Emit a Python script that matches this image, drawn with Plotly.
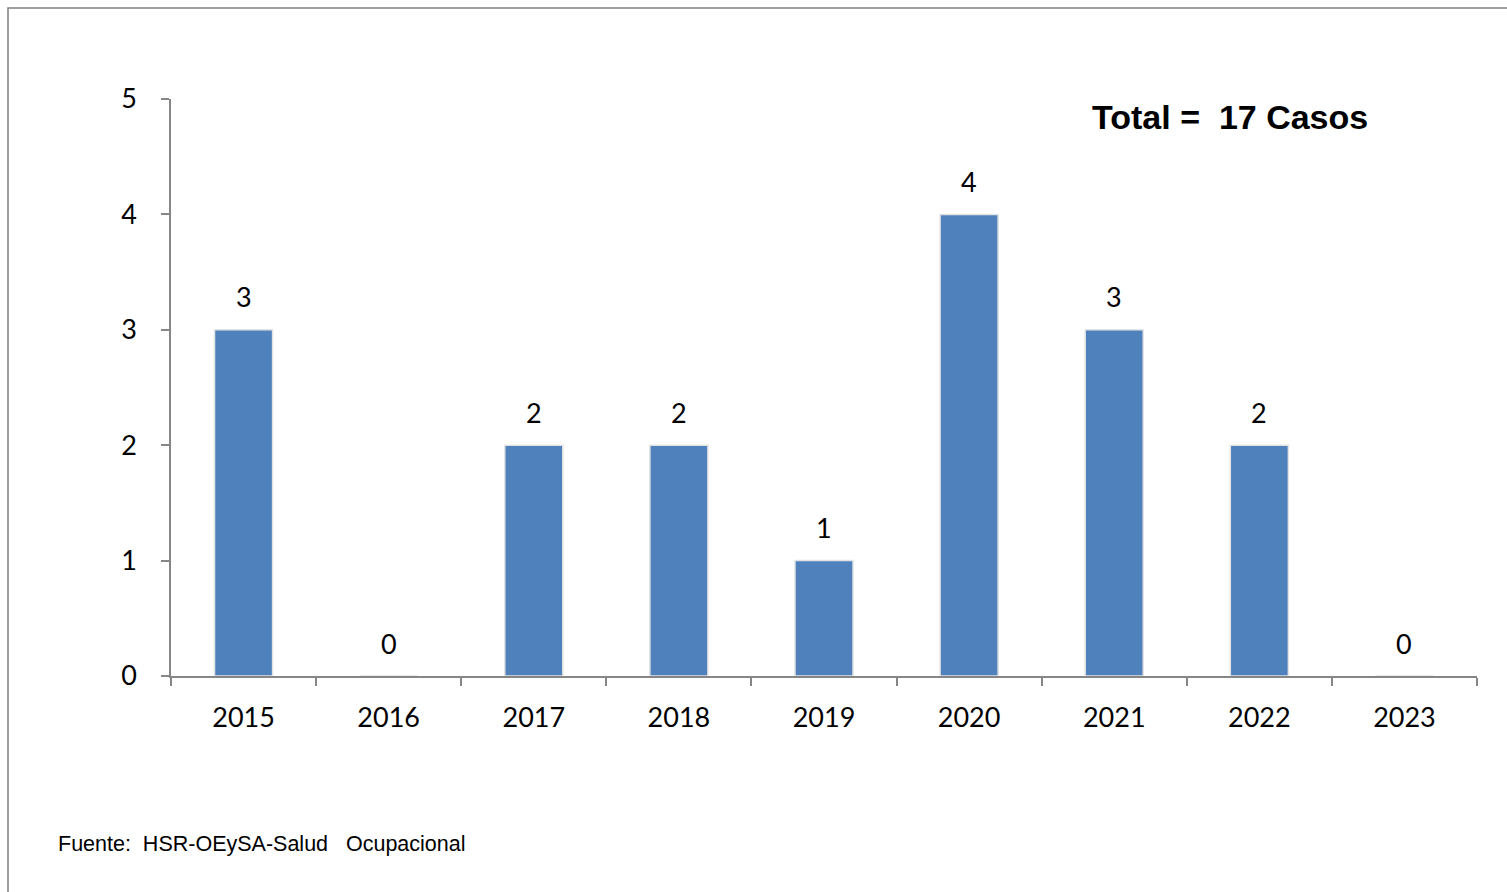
import plotly.graph_objects as go

years = ["2015", "2016", "2017", "2018", "2019", "2020", "2021", "2022", "2023"]
casos = [3, 0, 2, 2, 1, 4, 3, 2, 0]
y_ticks = [0, 1, 2, 3, 4, 5]
total_text = "Total =  17 Casos"
source_text = "Fuente:  HSR-OEySA-Salud   Ocupacional"

W, H = 1507, 892
L, R, T, B = 171, 1477, 99, 676
pw, ph = R - L, B - T

def px_x(px):
    return (px - L) / pw

def px_y(py):
    return (B - py) / ph

fig = go.Figure()
fig.add_trace(go.Bar(
    x=years, y=casos,
    marker=dict(color="#4F81BD", line=dict(color="#E3E3E3", width=1.5)),
    width=0.4,
    hoverinfo="x+y",
))

for i, v in enumerate(casos):
    fig.add_annotation(x=i, y=v, text=str(v), showarrow=False,
                       yanchor="middle", yshift=33,
                       font=dict(family="Lato", size=27, color="#000000"))

fig.add_annotation(xref="paper", yref="paper", x=px_x(1230), y=px_y(117),
                   text="<b>" + total_text + "</b>", showarrow=False,
                   xanchor="center", yanchor="middle",
                   font=dict(family="Liberation Sans", size=34, color="#000000"))

fig.add_annotation(xref="paper", yref="paper", x=px_x(56), y=px_y(844),
                   text=source_text, showarrow=False,
                   xanchor="left", yanchor="middle",
                   font=dict(family="Liberation Sans", size=21.5, color="#000000"))

fig.add_shape(type="rect", xref="paper", yref="paper",
              x0=px_x(8), x1=px_x(1512), y0=px_y(897), y1=px_y(8),
              line=dict(color="#7F7F7F", width=1.5), layer="below")

fig.update_layout(
    width=W, height=H,
    margin=dict(l=L, r=W - R, t=T, b=H - B, autoexpand=False),
    plot_bgcolor="white", paper_bgcolor="white",
    showlegend=False,
    xaxis=dict(
        type="category", tickson="boundaries", ticks="outside", ticklen=8,
        tickcolor="#868686", tickwidth=1.5, tickangle=0,
        range=[-0.5, len(years) - 0.5],
        showline=True, linecolor="#868686", linewidth=1.5,
        showgrid=False, zeroline=False, ticklabelstandoff=17,
        tickfont=dict(family="Lato", size=27, color="#000000"),
    ),
    yaxis=dict(
        range=[0, 5], tickvals=y_ticks, ticks="outside", ticklen=8,
        tickcolor="#868686", tickwidth=1.5,
        showline=True, linecolor="#868686", linewidth=1.5,
        showgrid=False, zeroline=False, ticklabelstandoff=19,
        tickfont=dict(family="Lato", size=27, color="#000000"),
    ),
)

fig.write_html("out.html", config={"displayModeBar": False},
               post_script="document.body.style.margin='0';document.body.style.overflow='hidden';")
